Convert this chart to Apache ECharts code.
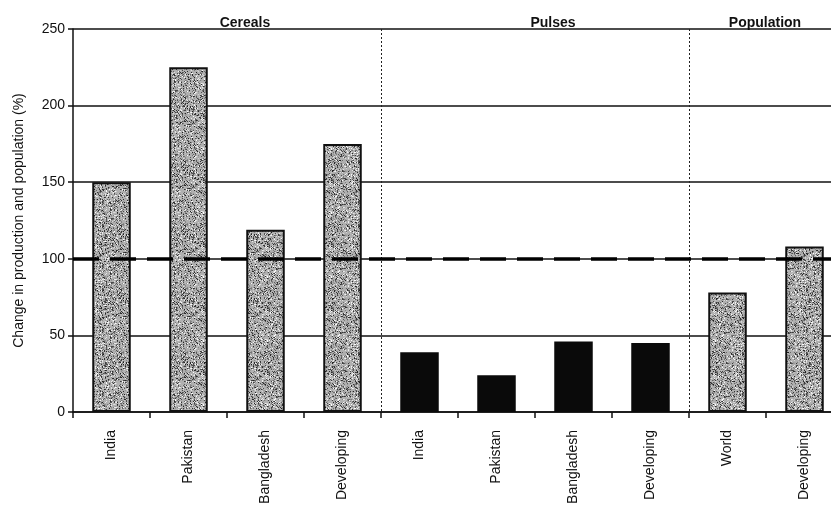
<!DOCTYPE html>
<html>
<head>
<meta charset="utf-8">
<script src="https://cdn.jsdelivr.net/npm/echarts@6/dist/echarts.min.js"></script>
<style>
  html, body { margin: 0; padding: 0; background: #fff; }
  #main { width: 831px; height: 512px; }
</style>
</head>
<body>
<div id="main"></div>
<script>
// categories along the x axis
var categories = ['India', 'Pakistan', 'Bangladesh', 'Developing',
                  'India', 'Pakistan', 'Bangladesh', 'Developing',
                  'World', 'Developing'];
// change in production / population (%)
var cerealValues = [150, 225, 119, 175];
var pulseValues = [39, 24, 46, 45];
var populationValues = [78, 108];
var yTicks = [0, 50, 100, 150, 200, 250];
var sectionTitles = ['Cereals', 'Pulses', 'Population'];
var referenceLevel = 100;

// speckled grey texture for the stippled bars
function makeSpeckle() {
  var n = 64;
  var c = document.createElement('canvas');
  c.width = n; c.height = n;
  var ctx = c.getContext('2d');
  ctx.fillStyle = '#b0b0b0';
  ctx.fillRect(0, 0, n, n);
  var s = 987654;
  function next() {
    s = (s * 1103515245 + 12345) % 2147483648;
    return Math.floor(s / 65536);
  }
  for (var i = 0; i < 3200; i++) {
    var x = next() % n;
    var y = next() % n;
    var g = 30 + (next() % 226);
    ctx.fillStyle = 'rgb(' + g + ',' + g + ',' + g + ')';
    ctx.fillRect(x, y, 1, 1);
  }
  return c;
}
var speckle = makeSpeckle();

var stippled = {
  color: { image: speckle, repeat: 'repeat' },
  borderColor: '#111',
  borderWidth: 2
};
var solid = { color: '#0a0a0a' };

var barData = [];
cerealValues.forEach(function (v) { barData.push({ value: v, itemStyle: stippled }); });
pulseValues.forEach(function (v) { barData.push({ value: v, itemStyle: solid }); });
populationValues.forEach(function (v) { barData.push({ value: v, itemStyle: stippled }); });

var font = 'Liberation Sans, Arial, sans-serif';
var myChart = echarts.init(document.getElementById('main'));

var titleX = [240, 548, 760];
var option = {
  animation: false,
  backgroundColor: '#fff',
  title: sectionTitles.map(function (t, i) {
    return {
      text: t,
      left: titleX[i],
      top: 11,
      textAlign: 'center',
      textStyle: { fontFamily: font, fontSize: 14, fontWeight: 'bold', color: '#111' }
    };
  }),
  grid: { left: 73, width: 770, top: 29, bottom: 100, outerBoundsMode: 'none' },
  xAxis: {
    type: 'category',
    data: categories,
    axisLine: { lineStyle: { color: '#111', width: 1.5 } },
    axisTick: { show: true, length: 6, lineStyle: { color: '#111', width: 1.5 } },
    axisLabel: {
      rotate: 90, margin: 18, color: '#111',
      fontFamily: font, fontSize: 14
    },
    splitLine: {
      show: true,
      interval: function (index) { return index === 4 || index === 8; },
      lineStyle: { color: '#222', type: [2, 2], width: 1 }
    }
  },
  yAxis: {
    type: 'value',
    min: yTicks[0],
    max: yTicks[yTicks.length - 1],
    interval: 50,
    name: 'Change in production and population (%)',
    nameLocation: 'middle',
    nameGap: 47,
    nameTextStyle: { fontFamily: font, fontSize: 14, color: '#111' },
    axisLine: { show: true, lineStyle: { color: '#111', width: 1.5 } },
    axisTick: { show: true, length: 5, lineStyle: { color: '#111', width: 1.5 } },
    axisLabel: { color: '#111', fontFamily: font, fontSize: 14, margin: 8 },
    splitLine: { show: true, lineStyle: { color: '#111', width: 1.5 } }
  },
  series: [{
    type: 'bar',
    data: barData,
    barWidth: '50%',
    markLine: {
      silent: true,
      symbol: 'none',
      label: { show: false },
      lineStyle: { color: '#000', width: 3.5, type: [26, 11] },
      data: [{ yAxis: referenceLevel }]
    }
  }]
};

myChart.setOption(option);
</script>
</body>
</html>
